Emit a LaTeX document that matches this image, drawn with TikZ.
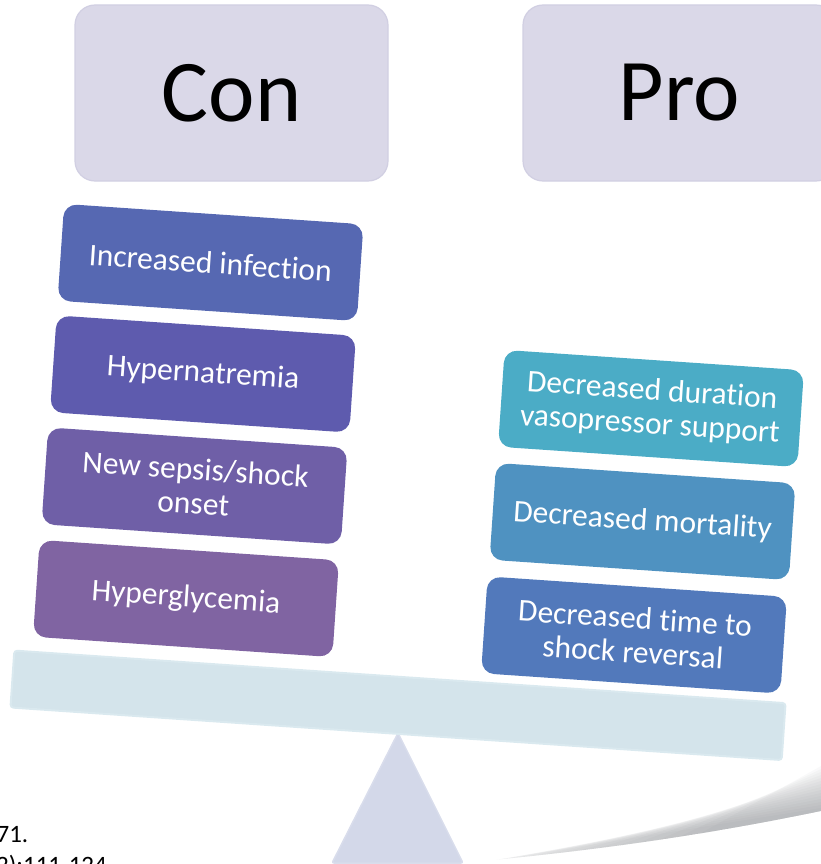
\documentclass[tikz,border=0pt]{standalone}
\usepackage{fontspec}
\setmainfont{Carlito}[Ligatures=NoCommon]
\definecolor{hdr}{HTML}{DAD8E8}
\definecolor{hdrline}{HTML}{D1CFE2}
\definecolor{cA}{HTML}{5668B2}
\definecolor{cB}{HTML}{5E5BAE}
\definecolor{cC}{HTML}{6F5FA7}
\definecolor{cD}{HTML}{8064A2}
\definecolor{rA}{HTML}{4BACC6}
\definecolor{rB}{HTML}{4F92C1}
\definecolor{rC}{HTML}{5279BB}
\definecolor{beamfill}{HTML}{D4E4EB}
\definecolor{beamline}{HTML}{DAE9EF}
\definecolor{fulcrum}{HTML}{D3D8E9}
\definecolor{fulcrumline}{HTML}{D9DDEC}
\definecolor{shadowc}{HTML}{5A5E64}
\begin{document}
\begin{tikzpicture}[x=1pt,y=-1pt,
  header/.style={rounded corners=20pt, fill=hdr, draw=hdrline, line width=1.2pt,
    minimum width=313pt, minimum height=176pt, inner sep=0pt, text=black,
    font=\fontsize{88}{100}\selectfont},
  item/.style={rounded corners=13pt, minimum width=300pt, minimum height=97pt,
    inner sep=0pt, rotate=-3.9, text=white, align=center,
    font=\fontsize{31.5}{34}\selectfont},
  reftext/.style={anchor=base east, inner sep=0pt, text=black,
    font=\fontsize{25}{30}\selectfont}]
\useasboundingbox (0,0) rectangle (821,864);
\clip (0,0) rectangle (821,864);
% page-curl shadow: layered translucent fills above a sharp lower edge
\begin{scope}
  \clip (400,868) .. controls (570,855) and (695,837) .. (821,811)
    -- (821,700) -- (400,700) -- cycle;
  \foreach \i in {1,...,15} {
    \fill[shadowc, fill opacity=0.036]
      ({420+20*(\i-1)},{872-0.137*20*(\i-1)}) -- (821,{811-3*\i})
      -- (830,{811-3*\i}) -- (830,880) -- ({420+20*(\i-1)},880) -- cycle;
  }
\end{scope}
% fulcrum
\coordinate (apex) at (398,733);
\coordinate (bl) at (332,863);
\coordinate (br) at (463,863);
\filldraw[fill=fulcrum, draw=fulcrumline, line width=1.5pt, rounded corners=2pt]
  (apex) -- (br) -- (bl) -- cycle;
% beam
\node[fill=beamfill, draw=beamline, line width=2pt, rounded corners=3pt,
  minimum width=773pt, minimum height=57pt, inner sep=0pt, rotate=-3.9]
  (beam) at (398,705.3) {};
% headers
\node[header] (con) at (231.5,93) {Con};
\node[header] (pro) at (679.5,93) {Pro};
% con items
\node[item, fill=cA] (inf) at (210.5,262.5) {Increased infection};
\node[item, fill=cB] (hyn) at (203,374) {Hypernatremia};
\node[item, fill=cC] (sep) at (194.5,486) {New sepsis/shock\\onset};
\node[item, fill=cD] (hyg) at (186,598.5) {Hyperglycemia};
% pro items
\node[item, fill=rA] (vas) at (651,408.5) {Decreased duration\\vasopressor support};
\node[item, fill=rB] (mor) at (642.5,521.5) {Decreased mortality};
\node[item, fill=rC] (shk) at (634,635) {Decreased time to\\shock reversal};
% cut-off reference text
\node[reftext] (ref1) at (28.5,842) {71.};
\node[reftext] (ref2) at (107,873) {2):111-124};
\end{tikzpicture}
\end{document}
